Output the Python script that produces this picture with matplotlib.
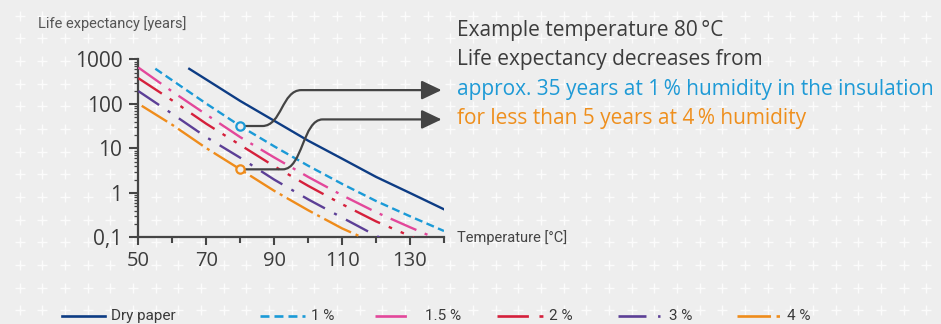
import numpy as np
import matplotlib
matplotlib.use("Agg")
import matplotlib.pyplot as plt
from matplotlib.lines import Line2D
from matplotlib.path import Path
from matplotlib.patches import FancyArrowPatch, ArrowStyle
from matplotlib.ticker import LogLocator, NullFormatter

# ---------------- Data ----------------
temp_dry = [65, 70, 80, 90, 100, 110, 120, 130, 140]
life_dry = [617, 355, 117, 42, 15, 5.9, 2.3, 1.0, 0.43]

temp_1 = [55, 60, 70, 80, 90, 100, 110, 120, 130, 140]
life_1 = [620, 340, 102, 32, 11.2, 4.1, 1.6, 0.66, 0.30, 0.14]

temp_15 = [50, 60, 70, 80, 90, 100, 110, 120, 130, 137]
life_15 = [660, 190, 58, 18, 6.3, 2.3, 0.89, 0.37, 0.17, 0.1]

temp_2 = [50, 60, 70, 80, 90, 100, 110, 120, 131]
life_2 = [380, 120, 36, 12, 4.0, 1.45, 0.56, 0.23, 0.1]

temp_3 = [50, 60, 70, 80, 90, 100, 110, 121]
life_3 = [195, 60, 18, 6.2, 2.0, 0.72, 0.28, 0.1]

temp_4 = [51, 60, 70, 80, 90, 100, 110, 116]
life_4 = [91, 34, 10.2, 3.4, 1.12, 0.41, 0.16, 0.1]

labels = ["Dry paper", "1 %", "1.5 %", "2 %", "3 %", "4 %"]

# example at 80 degC (1 % and 4 % curves) and where the callout arrows end up
ex_temp = 80
ex_life = [32, 3.4]
arrow_levels = [205, 45]

x_ticks = [50, 70, 90, 110, 130]
y_ticks = [0.1, 1, 10, 100, 1000]
y_tick_labels = ["0,1", "1", "10", "100", "1000"]

callout = [
    ("Example temperature 80\u2009°C", "#3c3c3c"),
    ("Life expectancy decreases from", "#3c3c3c"),
    ("approx. 35 years at 1\u2009% humidity in the insulation", "#1e9ad6"),
    ("for less than 5 years at 4\u2009% humidity", "#ee8f1d"),
]

# ---------------- Styles ----------------
colors = ["#0d3c84", "#1b9ad7", "#e3479a", "#d5203b", "#5c3f96", "#ef8c1b"]
dashes = [
    "-",
    (0, (3.4, 1.9)),
    (0, (11.9, 3.8, 1.3, 3.8)),
    (0, (11.9, 4.0, 1.5, 4.0, 1.5, 4.0)),
    (0, (10.6, 4.4, 1.3, 4.4)),
    (0, (12.7, 2.1, 1.3, 2.1)),
]
ink = "#454545"
cond = ["Roboto", "DejaVu Sans"]

plt.rcParams["font.family"] = ["Open Sans", "DejaVu Sans"]

fig = plt.figure(figsize=(9.41, 3.24), dpi=100)
fig.patch.set_facecolor("#eeeeee")

# --- background "+" texture ---
bg = fig.add_axes([0, 0, 1, 1], zorder=-10)
bg.set_xlim(0, 941)
bg.set_ylim(324, 0)
bg.axis("off")
gx, gy = np.meshgrid(np.arange(19.6, 941, 22.67), np.arange(15.7, 324, 22.67))
bg.scatter(gx.ravel(), gy.ravel(), marker="+", s=62, color="#fbfbfb", linewidths=1.0)

# --- main axes ---
ax = fig.add_axes([0.1470, 0.2670, 0.3248, 0.5494])
ax.patch.set_alpha(0)

series = [(temp_dry, life_dry), (temp_1, life_1), (temp_15, life_15),
          (temp_2, life_2), (temp_3, life_3), (temp_4, life_4)]
for (t, v), c, d in zip(series, colors, dashes):
    ax.plot(t, v, color=c, lw=1.7, linestyle=d, zorder=3)

ax.set_yscale("log")
ax.set_xlim(50, 140)
ax.set_ylim(0.1, 1000)

for s in ["top", "right"]:
    ax.spines[s].set_visible(False)
for s in ["left", "bottom"]:
    ax.spines[s].set_color(ink)
    ax.spines[s].set_linewidth(1.6)

ax.set_yticks(y_ticks, labels=y_tick_labels)
ax.yaxis.set_minor_locator(LogLocator(base=10, subs=np.arange(2, 10)))
ax.yaxis.set_minor_formatter(NullFormatter())
ax.set_xticks(x_ticks)
ax.set_xticks(np.arange(60, 141, 20), minor=True)
ax.tick_params(axis="y", which="major", direction="out", length=6.5, width=1.5,
               color=ink, labelsize=15, labelcolor="#3c3c3c", pad=5)
ax.tick_params(axis="y", which="minor", direction="out", length=3, width=0.9, color=ink)
ax.tick_params(axis="x", which="major", direction="out", length=6, width=1.5,
               color=ink, labelsize=14.5, labelcolor="#3c3c3c", pad=4)
ax.tick_params(axis="x", which="minor", direction="out", length=4, width=1.5, color=ink)

# --- callout arrows from the 80 degC points ---
for yv, ya, c, x1, x2 in zip(ex_life, arrow_levels, [colors[1], colors[5]],
                             [86.5, 92.5], [98.0, 104.3]):
    xm = (x1 + x2) / 2
    verts = [(ex_temp + 1.2, yv), (x1, yv), (xm, yv), (xm, ya), (x2, ya), (139.3, ya)]
    codes = [Path.MOVETO, Path.LINETO, Path.CURVE4, Path.CURVE4, Path.CURVE4, Path.LINETO]
    arr = FancyArrowPatch(path=Path(verts, codes),
                          arrowstyle=ArrowStyle("-|>", head_length=1.22, head_width=0.58),
                          mutation_scale=10, color="#444444", lw=1.6, zorder=5)
    ax.add_patch(arr)
    ax.plot([ex_temp], [yv], marker="o", ms=6, mfc="#eeeeee", mec=c, mew=1.6,
            zorder=6, clip_on=False)

# --- texts ---
fig.text(0.0404, 0.9136, "Life expectancy [years]", family=cond, fontsize=10.5,
         color="#555555", va="baseline")
fig.text(0.4857, 0.267, "Temperature [°C]", family=cond, fontsize=10.5,
         color="#444444", va="center")

for i, (txt, c) in enumerate(callout):
    fig.text(0.4857, 0.8889 - i * 0.0905, txt, fontsize=15, color=c, va="baseline")

# --- legend row along the bottom ---
leg_line_x = [(62, 105), (260, 305), (375, 412), (497, 545), (618, 660), (737, 780)]
leg_text_x = [111, 311, 425, 549, 669, 787]
yl = 1 - 316 / 324
for (a, b), tx, lab, c, d in zip(leg_line_x, leg_text_x, labels, colors, dashes):
    fig.add_artist(Line2D([a / 941, b / 941], [yl, yl], color=c, lw=1.9,
                          linestyle=d, transform=fig.transFigure))
    fig.text(tx / 941, yl, lab, family=cond, fontsize=11, color="#3a3a3a", va="center")

fig.savefig("out.png", dpi=100, facecolor=fig.get_facecolor())
